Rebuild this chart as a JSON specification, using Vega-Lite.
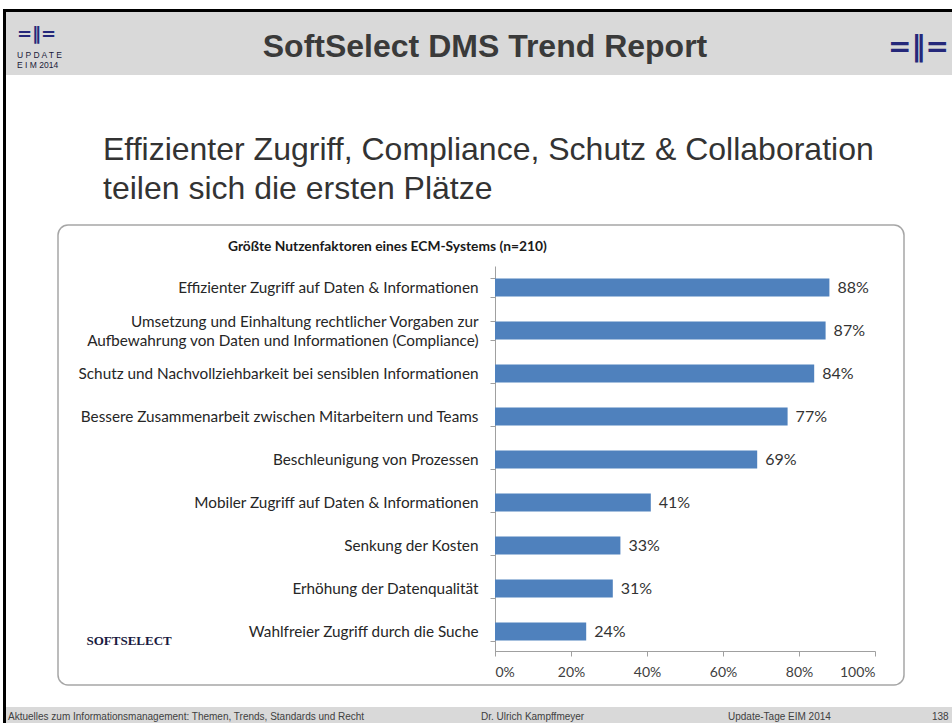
{
  "$schema": "https://vega.github.io/schema/vega-lite/v6.json",
  "background": "white",
  "padding": {"left": 3, "top": 9, "right": 0, "bottom": 0},
  "autosize": {"type": "pad"},
  "config": {"view": {"stroke": null}, "concat": {"spacing": 0}},
  "spacing": 0,
  "hconcat": [
    {
      "width": 3, "height": 714,
      "view": {"fill": "#000000", "stroke": null},
      "data": {"values": []},
      "mark": "point"
    },
    {
      "spacing": 0,
      "vconcat": [
        {
          "width": 946, "height": 3,
          "view": {"fill": "#000000", "stroke": null},
          "data": {"values": []},
          "mark": "point"
        },
        {
          "spacing": 0,
          "hconcat": [
            {
              "width": 76, "height": 63,
              "view": {"fill": "#d9d9d9", "stroke": null},
              "data": {"values": []},
              "mark": "point",
              "title": {
                "text": "=‖=", "orient": "top", "anchor": "start", "frame": "group",
                "baseline": "alphabetic", "offset": -71, "dx": 11,
                "font": "DejaVu Sans", "fontWeight": "bold", "fontSize": 18, "color": "#25287a",
                "subtitle": ["U P D A T E", "E I M  2014"],
                "subtitleFont": "Liberation Sans", "subtitleFontSize": 8.5, "subtitleColor": "#1a1a3a",
                "subtitleLineHeight": 10, "subtitlePadding": 0
              }
            },
            {
              "width": 806, "height": 63,
              "view": {"fill": "#d9d9d9", "stroke": null},
              "data": {"values": []},
              "mark": "point",
              "title": {
                "text": "SoftSelect DMS Trend Report", "orient": "top", "anchor": "middle", "frame": "group",
                "baseline": "alphabetic", "offset": -77,
                "font": "Liberation Sans", "fontWeight": "bold", "fontSize": 32, "color": "#3a3a3a"
              }
            },
            {
              "width": 64, "height": 63,
              "view": {"fill": "#d9d9d9", "stroke": null},
              "data": {"values": []},
              "mark": "point",
              "title": {
                "text": "=‖=", "orient": "top", "anchor": "start", "frame": "group",
                "baseline": "alphabetic", "offset": -72, "dx": 0,
                "font": "DejaVu Sans", "fontWeight": "bold", "fontSize": 28, "color": "#25287a"
              }
            }
          ]
        },
        {
          "width": 946, "height": 142,
          "data": {"values": []},
          "mark": "point",
          "title": {
            "text": ["Effizienter Zugriff, Compliance, Schutz & Collaboration", "teilen sich die ersten Plätze"],
            "orient": "top", "anchor": "start", "frame": "group",
            "baseline": "alphabetic", "offset": -156, "dx": 97, "lineHeight": 39,
            "font": "Liberation Sans", "fontWeight": "normal", "fontSize": 32, "color": "#333333"
          }
        },
        {
          "spacing": 0,
          "hconcat": [
            {
              "width": 51, "height": 460,
              "data": {"values": []},
              "mark": "point"
            },
            {
              "width": 846, "height": 460,
              "view": {"fill": null, "stroke": "#a6a6a6", "strokeWidth": 1.5, "cornerRadius": 10},
              "title": {
                "text": "Größte Nutzenfaktoren eines ECM-Systems (n=210)",
                "orient": "top", "anchor": "start", "frame": "group",
                "baseline": "alphabetic", "offset": -47, "dx": 170,
                "font": "Lato", "fontWeight": "bold", "fontSize": 13.8, "color": "#1a1a1a"
              },
              "data": {
                "values": [
                  {"factor": "Effizienter Zugriff auf Daten & Informationen", "share": 0.88},
                  {"factor": "Umsetzung und Einhaltung rechtlicher Vorgaben zur|Aufbewahrung von Daten und Informationen (Compliance)", "share": 0.87},
                  {"factor": "Schutz und Nachvollziehbarkeit bei sensiblen Informationen", "share": 0.84},
                  {"factor": "Bessere Zusammenarbeit zwischen Mitarbeitern und Teams", "share": 0.77},
                  {"factor": "Beschleunigung von Prozessen", "share": 0.69},
                  {"factor": "Mobiler Zugriff auf Daten & Informationen", "share": 0.41},
                  {"factor": "Senkung der Kosten", "share": 0.33},
                  {"factor": "Erhöhung der Datenqualität", "share": 0.31},
                  {"factor": "Wahlfreier Zugriff durch die Suche", "share": 0.24}
                ]
              },
              "encoding": {
                "x": {
                  "field": "share", "type": "quantitative",
                  "scale": {"domain": [0, 1], "range": [437, 817], "nice": false},
                  "axis": {
                    "title": "SOFTSELECT", "orient": "bottom", "offset": -34,
                    "titleX": 28, "titleY": -7, "titleAlign": "left", "titleBaseline": "alphabetic", "titleAngle": 0,
                    "titleFont": "Liberation Serif", "titleFontWeight": "bold", "titleFontSize": 13, "titleColor": "#1a1a40",
                    "values": [0, 0.2, 0.4, 0.6, 0.8, 1], "format": ".0%",
                    "labelFont": "Lato", "labelFontSize": 14, "labelColor": "#404040",
                    "labelPadding": 9, "tickSize": 5, "tickColor": "#a0a0a0",
                    "domainColor": "#a0a0a0", "grid": false
                  }
                }
              },
              "layer": [
                {
                  "mark": {"type": "bar", "color": "#4f81bd"},
                  "encoding": {
                    "y": {
                      "field": "factor", "type": "nominal", "sort": null,
                      "scale": {"range": [41, 428], "paddingInner": 0.58, "paddingOuter": 0.29},
                      "axis": {
                        "title": null, "orient": "left", "offset": -437, "tickBand": "extent",
                        "values": [
                          "Effizienter Zugriff auf Daten & Informationen",
                          "Schutz und Nachvollziehbarkeit bei sensiblen Informationen",
                          "Bessere Zusammenarbeit zwischen Mitarbeitern und Teams",
                          "Beschleunigung von Prozessen",
                          "Mobiler Zugriff auf Daten & Informationen",
                          "Senkung der Kosten",
                          "Erhöhung der Datenqualität",
                          "Wahlfreier Zugriff durch die Suche"
                        ],
                        "labelFont": "Lato", "labelFontSize": 15.3, "labelColor": "#262626",
                        "labelLimit": 600, "labelPadding": 12,
                        "tickSize": 5, "tickColor": "#a0a0a0", "domainColor": "#a0a0a0", "grid": false
                      }
                    }
                  }
                },
                {
                  "mark": {"type": "text", "align": "left", "baseline": "middle", "dx": 8,
                           "font": "Lato", "fontSize": 16, "color": "#333333"},
                  "encoding": {
                    "y": {
                      "field": "factor", "type": "nominal", "sort": null,
                      "axis": {
                        "title": null, "orient": "left", "offset": -437, "tickBand": "extent",
                        "values": ["Umsetzung und Einhaltung rechtlicher Vorgaben zur|Aufbewahrung von Daten und Informationen (Compliance)"],
                        "labelExpr": "split(datum.label, '|')",
                        "labelOffset": -9.5, "labelLineHeight": 19,
                        "labelFont": "Lato", "labelFontSize": 15.3, "labelColor": "#262626",
                        "labelLimit": 600, "labelPadding": 12,
                        "tickSize": 5, "tickColor": "#a0a0a0", "domain": false, "grid": false
                      }
                    },
                    "text": {"field": "share", "type": "quantitative", "format": ".0%"}
                  }
                }
              ],
              "resolve": {"axis": {"y": "independent"}}
            }
          ]
        },
        {
          "width": 946, "height": 21,
          "data": {"values": []},
          "mark": "point"
        },
        {
          "spacing": 0,
          "hconcat": [
            {
              "width": 470, "height": 16,
              "view": {"fill": "#d9d9d9", "stroke": null},
              "data": {"values": []},
              "mark": "point",
              "title": {
                "text": "Aktuelles zum Informationsmanagement: Themen, Trends, Standards und Recht",
                "orient": "top", "anchor": "start", "frame": "group",
                "baseline": "alphabetic", "offset": -23, "dx": 2,
                "font": "Liberation Sans Narrow, Liberation Sans", "fontWeight": "normal", "fontSize": 10, "color": "#404040"
              }
            },
            {
              "width": 240, "height": 16,
              "view": {"fill": "#d9d9d9", "stroke": null},
              "data": {"values": []},
              "mark": "point",
              "title": {
                "text": "Dr. Ulrich Kampffmeyer",
                "orient": "top", "anchor": "start", "frame": "group",
                "baseline": "alphabetic", "offset": -23, "dx": 5,
                "font": "Liberation Sans Narrow, Liberation Sans", "fontWeight": "normal", "fontSize": 10, "color": "#404040"
              }
            },
            {
              "width": 206, "height": 16,
              "view": {"fill": "#d9d9d9", "stroke": null},
              "data": {"values": []},
              "mark": "point",
              "title": {
                "text": "Update-Tage EIM 2014",
                "orient": "top", "anchor": "start", "frame": "group",
                "baseline": "alphabetic", "offset": -23, "dx": 12,
                "font": "Liberation Sans Narrow, Liberation Sans", "fontWeight": "normal", "fontSize": 10, "color": "#404040"
              }
            },
            {
              "width": 30, "height": 16,
              "view": {"fill": "#d9d9d9", "stroke": null},
              "data": {"values": []},
              "mark": "point",
              "title": {
                "text": "138",
                "orient": "top", "anchor": "start", "frame": "group",
                "baseline": "alphabetic", "offset": -23, "dx": 10,
                "font": "Liberation Sans Narrow, Liberation Sans", "fontWeight": "normal", "fontSize": 10, "color": "#404040"
              }
            }
          ]
        }
      ]
    }
  ]
}
